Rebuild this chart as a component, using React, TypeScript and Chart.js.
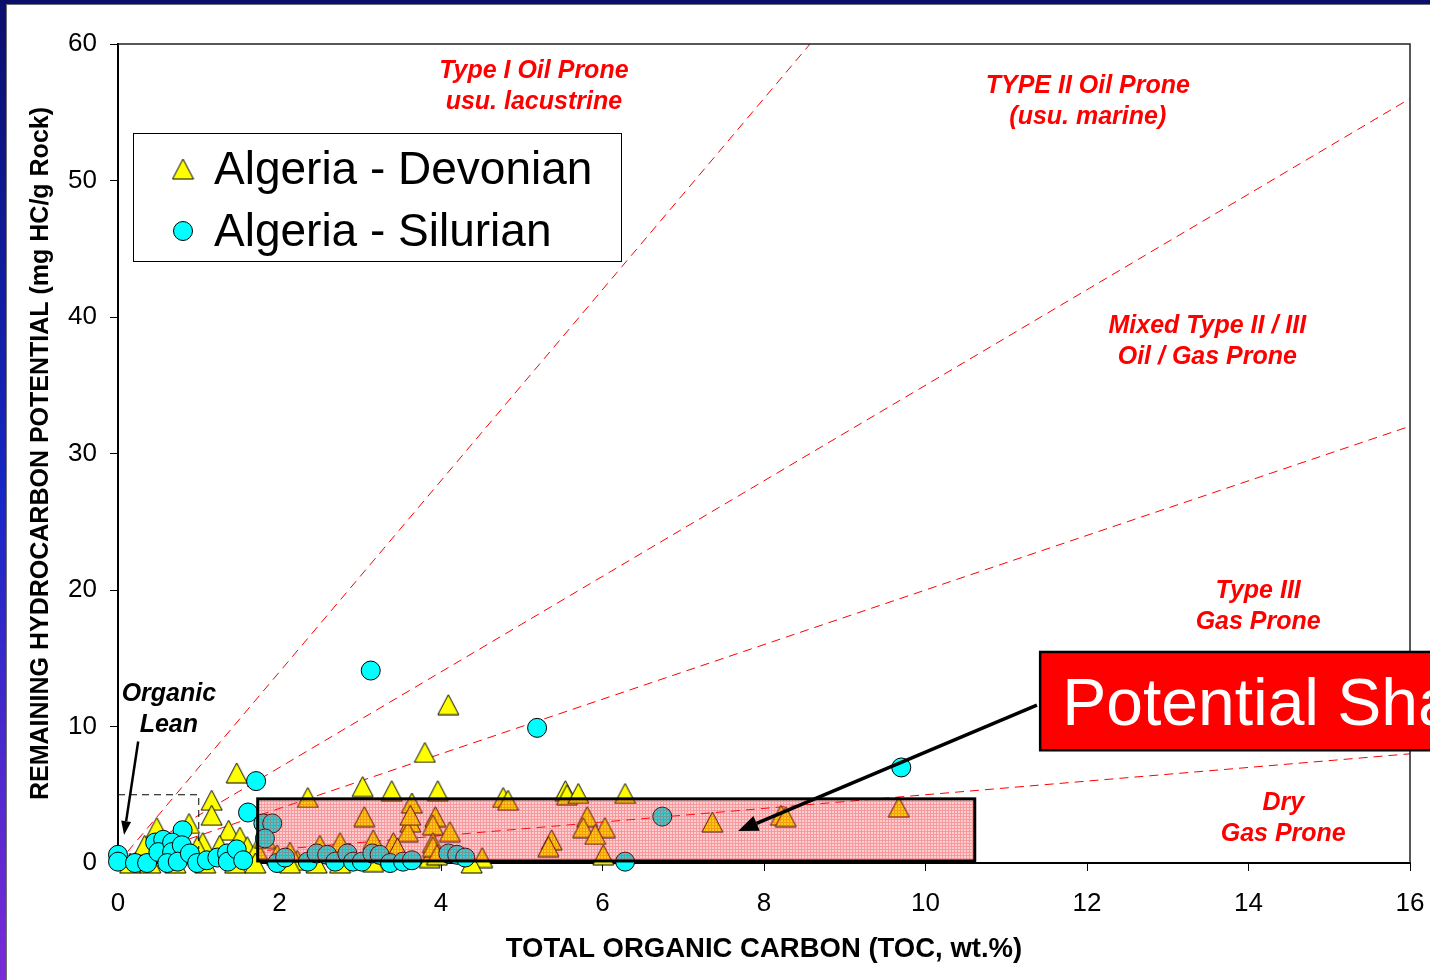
import React, { useEffect, useRef } from "react";
import { Chart, registerables } from "chart.js";
Chart.register(...registerables);

// ---------- axis ranges / ticks ----------
const X_MIN = 0, X_MAX = 16, X_STEP = 2;
const Y_MIN = 0, Y_MAX = 60, Y_STEP = 10;
const xTitle = "TOTAL ORGANIC CARBON (TOC, wt.%)";
const yTitle = "REMAINING HYDROCARBON POTENTIAL (mg HC/g Rock)";

// ---------- series ----------
const devonianToc = [
  4.09, 3.80, 1.47, 1.16, 1.16, 2.35, 3.03, 3.39, 3.96, 3.64, 3.05, 3.62, 3.59, 3.93, 3.90, 4.11,
  2.75, 2.50, 3.16, 3.41, 3.46, 3.90, 3.93, 3.86, 4.51, 4.38, 2.46, 2.75, 2.22, 3.16,
  4.77, 4.83, 5.54, 5.56, 5.70, 6.28, 5.81, 5.76, 6.03, 5.91, 5.37, 5.33, 6.01,
  3.90, 3.95, 3.62, 7.36, 8.21, 8.27, 9.67,
  0.48, 0.88, 1.37, 1.51, 1.60, 1.05, 0.98, 1.26, 0.33, 1.72, 1.97, 1.82,
  0.15, 0.40, 0.71, 1.08, 1.45, 1.70, 2.13, 2.13,
];
const devonianS2 = [
  11.6, 8.1, 6.6, 4.6, 3.5, 4.8, 5.6, 5.3, 5.3, 4.4, 3.4, 3.0, 2.3, 3.4, 2.8, 2.3,
  1.5, 1.3, 1.7, 1.5, 1.1, 1.5, 0.8, 0.4, 0.4, 0.0, 0.0, 0.0, 0.2, 0.1,
  4.8, 4.6, 5.3, 5.0, 5.1, 5.1, 3.4, 2.6, 2.6, 2.1, 1.7, 1.2, 0.6,
  1.2, 0.6, 3.5, 3.0, 3.5, 3.4, 4.1,
  2.6, 2.9, 2.4, 1.9, 1.2, 1.5, 1.2, 1.3, 1.3, 1.0, 0.6, 1.8,
  0.0, 0.0, 0.0, 0.0, 0.0, 0.0, 0.0, 0.8,
];
const silurianToc = [
  3.13, 5.19, 9.70, 6.74, 6.28, 1.71, 1.61, 1.80, 1.91, 1.82, 0.80,
  0.00, 0.00, 0.21, 0.36, 0.46, 0.56, 0.50, 0.67, 0.67, 0.79, 0.61, 0.74, 0.89, 0.98,
  1.10, 1.23, 1.35, 1.36, 1.47, 1.55, 1.97, 2.07, 2.35, 2.46, 2.59, 2.69, 2.84, 2.91,
  3.02, 3.15, 3.24, 3.37, 3.53, 3.64, 4.09, 4.20, 4.30,
];
const silurianS2 = [
  14.1, 9.9, 7.0, 3.4, 0.1, 6.0, 3.7, 2.9, 2.9, 1.8, 2.4,
  0.6, 0.1, 0.0, 0.0, 1.5, 1.7, 0.8, 1.5, 0.8, 1.3, 0.0, 0.1, 0.7, 0.0,
  0.2, 0.4, 0.7, 0.1, 1.0, 0.2, 0.0, 0.4, 0.1, 0.7, 0.6, 0.1, 0.7, 0.1,
  0.1, 0.7, 0.6, 0.0, 0.1, 0.2, 0.7, 0.6, 0.4,
];

// kerogen-type boundary lines (from origin to their end point)
const boundaryEndToc = [8.57, 16, 16, 16];
const boundaryEndS2 = [60, 56, 32, 8];

// boxes
const leanBoxToc = 1.0;
const leanBoxS2 = 5.0;
const shaleBoxToc = [1.73, 10.61];
const shaleBoxS2 = [0.15, 4.7];

// labels
const seriesNames = ["Algeria - Devonian", "Algeria - Silurian"];
const zoneText = [
  ["Type I Oil Prone", "usu. lacustrine"],
  ["TYPE II Oil Prone", "(usu. marine)"],
  ["Mixed Type II / III", "Oil / Gas Prone"],
  ["Type III", "Gas Prone"],
  ["Dry", "Gas Prone"],
];
const leanText = ["Organic", "Lean"];
const shaleText = "Potential Shale";

// annotation anchors (data coordinates of first text line centre)
const zoneAnchorToc = [5.15, 12.01, 13.49, 14.12, 14.43];
const zoneAnchorS2 = [58.0, 56.95, 39.3, 19.95, 4.4];
const leanAnchor = { toc: 0.63, s2: 12.35 };
const leanArrow = { fromToc: 0.25, fromS2: 8.9, toToc: 0.075, toS2: 2.05 };
const shaleArrow = { fromToc: 11.38, fromS2: 11.57, toToc: 7.68, toS2: 2.34 };
const shaleLabelBox = { toc: 11.42, s2Top: 15.46, s2Bottom: 8.26 };

const FONT = "'Liberation Sans', Arial, Helvetica, sans-serif";

function makeTriangle(w: number, h: number) {
  const c = document.createElement("canvas");
  c.width = w + 2;
  c.height = h + 2;
  const g = c.getContext("2d")!;
  g.beginPath();
  g.moveTo(1 + w / 2, 1);
  g.lineTo(1 + w, 1 + h);
  g.lineTo(1, 1 + h);
  g.closePath();
  g.fillStyle = "#ffff00";
  g.fill();
  g.lineWidth = 1;
  g.strokeStyle = "#000";
  g.stroke();
  return c;
}

function drawArrow(ctx: CanvasRenderingContext2D, x1: number, y1: number, x2: number, y2: number, lw: number, hl: number, hw: number) {
  const a = Math.atan2(y2 - y1, x2 - x1);
  const bx = x2 - Math.cos(a) * hl;
  const by = y2 - Math.sin(a) * hl;
  ctx.lineWidth = lw;
  ctx.beginPath();
  ctx.moveTo(x1, y1);
  ctx.lineTo(bx, by);
  ctx.stroke();
  ctx.beginPath();
  ctx.moveTo(x2, y2);
  ctx.lineTo(bx + Math.sin(a) * hw / 2, by - Math.cos(a) * hw / 2);
  ctx.lineTo(bx - Math.sin(a) * hw / 2, by + Math.cos(a) * hw / 2);
  ctx.closePath();
  ctx.fill();
}

export default function App() {
  const ref = useRef<HTMLCanvasElement | null>(null);

  useEffect(() => {
    if (!ref.current) return;
    const tri = makeTriangle(21, 20);

    const decor = {
      id: "decor",
      beforeDraw(chart: any) {
        const { ctx, width, height } = chart;
        ctx.save();
        ctx.fillStyle = "#ffffff";
        ctx.fillRect(0, 0, width, height);
        const g = ctx.createLinearGradient(0, 0, 0, height);
        g.addColorStop(0, "#0b0f6c");
        g.addColorStop(0.5, "#1627c4");
        g.addColorStop(1, "#7a2ad6");
        ctx.fillStyle = g;
        ctx.fillRect(0, 0, 6, height);
        ctx.fillStyle = "#0b0f6c";
        ctx.fillRect(0, 0, width, 4);
        ctx.fillStyle = "#707070";
        ctx.fillRect(6, 4, width - 6, 1);
        ctx.fillRect(6, 4, 1, height - 4);
        ctx.restore();
      },
      afterDatasetsDraw(chart: any) {
        const { ctx, chartArea: ca } = chart;
        const xs = chart.scales.x, ys = chart.scales.y;
        const px = (v: number) => xs.getPixelForValue(v);
        const py = (v: number) => ys.getPixelForValue(v);
        ctx.save();

        // organic lean dashed box
        ctx.strokeStyle = "#000";
        ctx.lineWidth = 1;
        ctx.setLineDash([7, 5]);
        ctx.beginPath();
        ctx.moveTo(px(0), py(leanBoxS2));
        ctx.lineTo(px(leanBoxToc), py(leanBoxS2));
        ctx.lineTo(px(leanBoxToc), py(0) - 14);
        ctx.stroke();
        ctx.setLineDash([]);

        // potential shale region
        const sx0 = px(shaleBoxToc[0]), sx1 = px(shaleBoxToc[1]);
        const sy0 = py(shaleBoxS2[1]), sy1 = py(shaleBoxS2[0]);
        const pc = document.createElement("canvas");
        pc.width = 3; pc.height = 3;
        const pg = pc.getContext("2d")!;
        pg.fillStyle = "rgba(245,50,60,0.24)";
        pg.fillRect(0, 0, 3, 3);
        pg.fillStyle = "rgba(235,30,40,0.30)";
        pg.fillRect(0, 0, 3, 1);
        pg.fillRect(0, 1, 1, 2);
        ctx.fillStyle = ctx.createPattern(pc, "repeat");
        ctx.fillRect(sx0, sy0, sx1 - sx0, sy1 - sy0);
        ctx.strokeStyle = "#000";
        ctx.lineWidth = 3;
        ctx.strokeRect(sx0, sy0, sx1 - sx0, sy1 - sy0);

        // plot frame top / right
        ctx.lineWidth = 1.5;
        ctx.strokeStyle = "#222";
        ctx.beginPath();
        ctx.moveTo(ca.left, ca.top);
        ctx.lineTo(ca.right, ca.top);
        ctx.lineTo(ca.right, ca.bottom);
        ctx.stroke();

        // zone labels
        ctx.textAlign = "center";
        ctx.textBaseline = "middle";
        ctx.font = `italic bold 25px ${FONT}`;
        ctx.fillStyle = "#ff0000";
        zoneText.forEach((lines, i) => {
          const cx = px(zoneAnchorToc[i]);
          const cy = py(zoneAnchorS2[i]);
          lines.forEach((t, k) => ctx.fillText(t, cx, cy + k * 31));
        });
        ctx.fillStyle = "#000";
        leanText.forEach((t, k) => ctx.fillText(t, px(leanAnchor.toc), py(leanAnchor.s2) + k * 31));

        // arrows
        ctx.strokeStyle = "#000";
        ctx.fillStyle = "#000";
        drawArrow(ctx, px(leanArrow.fromToc), py(leanArrow.fromS2), px(leanArrow.toToc), py(leanArrow.toS2), 2.5, 14, 10);
        drawArrow(ctx, px(shaleArrow.fromToc), py(shaleArrow.fromS2), px(shaleArrow.toToc), py(shaleArrow.toS2), 3.5, 20, 16);

        // potential shale label box
        const bx = px(shaleLabelBox.toc), byT = py(shaleLabelBox.s2Top), byB = py(shaleLabelBox.s2Bottom);
        ctx.fillStyle = "#ff0000";
        ctx.fillRect(bx, byT, chart.width + 50 - bx, byB - byT);
        ctx.lineWidth = 2.5;
        ctx.strokeStyle = "#000";
        ctx.strokeRect(bx, byT, chart.width + 50 - bx, byB - byT);
        ctx.fillStyle = "#ffffff";
        ctx.textAlign = "left";
        ctx.textBaseline = "alphabetic";
        ctx.font = `66px ${FONT}`;
        ctx.fillText(shaleText, bx + 22, byB - 25);

        // legend
        const lx = ca.left + 15, ly = ca.top + 89, lw = 488, lh = 128;
        ctx.fillStyle = "#fff";
        ctx.fillRect(lx, ly, lw, lh);
        ctx.lineWidth = 1;
        ctx.strokeStyle = "#000";
        ctx.strokeRect(lx + 0.5, ly + 0.5, lw, lh);
        ctx.drawImage(tri, lx + 50 - tri.width / 2, ly + 36 - tri.height / 2);
        ctx.beginPath();
        ctx.arc(lx + 50, ly + 98, 9.5, 0, Math.PI * 2);
        ctx.fillStyle = "#00ffff";
        ctx.fill();
        ctx.stroke();
        ctx.fillStyle = "#000";
        ctx.font = `46px ${FONT}`;
        ctx.textBaseline = "middle";
        ctx.fillText(seriesNames[0], lx + 81, ly + 38);
        ctx.fillText(seriesNames[1], lx + 81, ly + 100);

        ctx.restore();
      },
    };

    const lineDatasets = boundaryEndToc.map((xe, i) => ({
      type: "line" as const,
      data: [{ x: 0, y: 0 }, { x: xe, y: boundaryEndS2[i] }],
      borderColor: "#ff0000",
      borderWidth: 1,
      borderDash: [9, 6],
      pointRadius: 0,
      fill: false,
      order: 3,
    }));

    const chart = new Chart(ref.current, {
      type: "scatter",
      data: {
        datasets: [
          {
            label: seriesNames[1],
            data: silurianToc.map((x, i) => ({ x, y: silurianS2[i] })),
            pointStyle: "circle",
            pointRadius: 9.5,
            backgroundColor: "#00ffff",
            borderColor: "#000",
            borderWidth: 1,
            clip: false,
            order: 0,
          },
          {
            label: seriesNames[0],
            data: devonianToc.map((x, i) => ({ x, y: devonianS2[i] })),
            pointStyle: tri as any,
            pointRadius: 10,
            backgroundColor: "#ffff00",
            borderColor: "#000",
            borderWidth: 1,
            clip: false,
            order: 1,
          },
          ...lineDatasets,
        ] as any,
      },
      options: {
        responsive: false,
        animation: false,
        devicePixelRatio: 1,
        layout: { padding: { top: 44, right: 20, left: 0, bottom: 0 } },
        plugins: { legend: { display: false }, tooltip: { enabled: false } },
        events: [],
        scales: {
          x: {
            type: "linear",
            min: X_MIN,
            max: X_MAX,
            afterFit(s: any) { s.height = 117; s.paddingLeft = 0; s.paddingRight = 0; },
            ticks: { stepSize: X_STEP, color: "#000", font: { family: FONT, size: 26 }, padding: 17, maxRotation: 0 },
            grid: { display: true, drawOnChartArea: false, drawTicks: true, tickLength: 8, color: "#000", lineWidth: 1 },
            border: { display: true, color: "#000", width: 2 },
            title: { display: true, text: xTitle, color: "#000", font: { family: FONT, size: 27.5, weight: "bold" }, padding: { top: 0, bottom: 14 } },
          },
          y: {
            type: "linear",
            min: Y_MIN,
            max: Y_MAX,
            afterFit(s: any) { s.width = 118; s.paddingTop = 0; s.paddingBottom = 0; },
            ticks: { stepSize: Y_STEP, color: "#000", font: { family: FONT, size: 26 }, padding: 13 },
            grid: { display: true, drawOnChartArea: false, drawTicks: true, tickLength: 8, color: "#000", lineWidth: 1 },
            border: { display: true, color: "#000", width: 2 },
            title: { display: true, text: yTitle, color: "#000", font: { family: FONT, size: 25, weight: "bold" }, padding: { top: 26, bottom: 0 } },
          },
        },
      } as any,
      plugins: [decor],
    });
    return () => chart.destroy();
  }, []);

  return (
    <div style={{ position: "fixed", left: 0, top: 0, width: 1430, height: 980, overflow: "hidden" }}>
      <canvas ref={ref} width={1430} height={980} style={{ display: "block" }} />
    </div>
  );
}
